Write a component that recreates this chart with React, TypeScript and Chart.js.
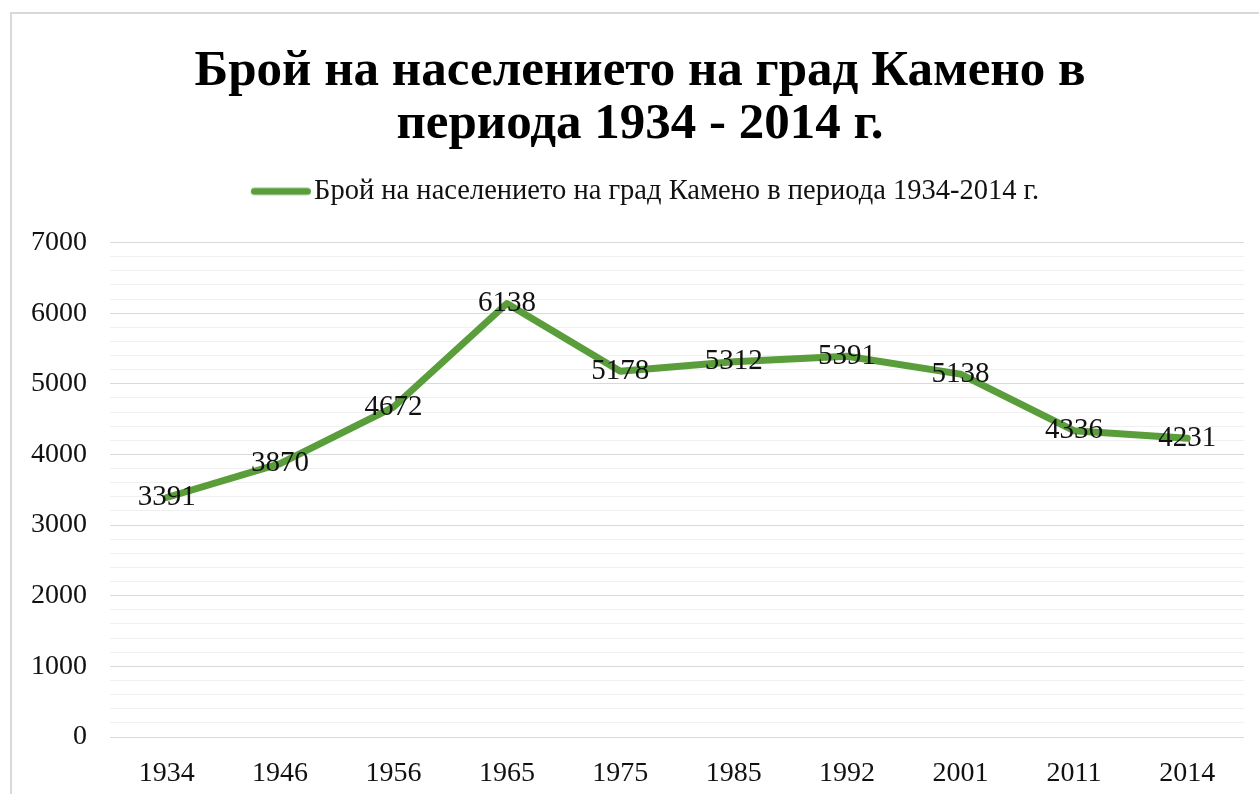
import React, { useEffect, useRef } from "react";
import { Chart, registerables } from "chart.js";

Chart.register(...registerables);

const years = ["1934", "1946", "1956", "1965", "1975", "1985", "1992", "2001", "2011", "2014"];
const population = [3391, 3870, 4672, 6138, 5178, 5312, 5391, 5138, 4336, 4231];
const titleLines = ["Брой на населението на град Камено в", "периода 1934 - 2014 г."];
const seriesLabel = "Брой на населението на град Камено в периода 1934-2014 г.";

const GREEN = "#5a9e3b";
const SERIF = "'Liberation Serif', 'DejaVu Serif', serif";

function makeLegendImage(): HTMLCanvasElement {
  const c = document.createElement("canvas");
  c.width = 69;
  c.height = 10;
  const ctx = c.getContext("2d")!;
  ctx.strokeStyle = GREEN;
  ctx.lineWidth = 7;
  ctx.lineCap = "round";
  ctx.beginPath();
  ctx.moveTo(12.5, 5);
  ctx.lineTo(65.5, 5);
  ctx.stroke();
  return c;
}

const dataLabels = {
  id: "dataLabels",
  afterDatasetsDraw(chart: any) {
    const ctx = chart.ctx;
    const meta = chart.getDatasetMeta(0);
    ctx.save();
    ctx.font = `29px ${SERIF}`;
    ctx.fillStyle = "#111";
    ctx.textAlign = "center";
    ctx.textBaseline = "middle";
    meta.data.forEach((pt: any, i: number) => {
      ctx.fillText(String(population[i]), pt.x, pt.y);
    });
    ctx.restore();
  },
};

function shiftBox(chart: any, box: any, dx: number) {
  if (!box || box._shifted) return;
  const orig = box.draw.bind(box);
  box.draw = function (...args: any[]) {
    const ctx = chart.ctx;
    ctx.save();
    ctx.translate(dx, 0);
    orig(...args);
    ctx.restore();
  };
  box._shifted = true;
}

const shiftHeader = {
  id: "shiftHeader",
  beforeDraw(chart: any) {
    shiftBox(chart, chart.titleBlock, 18);
    shiftBox(chart, chart.legend, 24);
  },
};

export default function App() {
  const ref = useRef<HTMLCanvasElement>(null);
  useEffect(() => {
    const chart = new Chart(ref.current!, {
      type: "line",
      data: {
        labels: years,
        datasets: [
          {
            label: seriesLabel,
            data: population,
            borderColor: GREEN,
            backgroundColor: GREEN,
            borderWidth: 7,
            borderCapStyle: "round",
            borderJoinStyle: "round",
            pointRadius: 0,
            tension: 0,
          },
        ],
      },
      options: {
        animation: false,
        responsive: false,
        layout: { padding: { left: 0, right: 15, top: 0, bottom: 0 } },
        plugins: {
          title: {
            display: true,
            text: titleLines,
            color: "#000",
            font: { family: SERIF, size: 51, weight: "bold", lineHeight: 1.04 },
            padding: { top: 45, bottom: 16 },
          },
          subtitle: {
            display: true,
            text: " ",
            weight: 500,
            font: { size: 1, lineHeight: 1 },
            padding: { top: 0, bottom: 26 },
          } as any,
          legend: {
            display: true,
            labels: {
              usePointStyle: true,
              pointStyle: makeLegendImage() as any,
              pointStyleWidth: 47,
              boxHeight: 10,
              color: "#111",
              font: { family: SERIF, size: 28.5 },
              padding: 10,
            },
          },
          tooltip: { enabled: false },
        },
        scales: {
          x: {
            offset: true,
            grid: { display: false, offset: true },
            border: { display: false },
            ticks: { color: "#111", font: { family: SERIF, size: 28 }, padding: 12, maxRotation: 0 },
            afterFit(scale: any) {
              scale.height = 57;
            },
          },
          y: {
            min: 0,
            max: 7000,
            border: { display: false },
            grid: {
              drawTicks: false,
              lineWidth: 1,
              color: (c: any) => (c.tick && c.tick.value % 1000 === 0 ? "#d9d9d9" : "#f0f0f0"),
            },
            ticks: {
              stepSize: 200,
              autoSkip: false,
              color: "#111",
              font: { family: SERIF, size: 28 },
              padding: 23,
              callback: (v: any) => (Number(v) % 1000 === 0 ? String(v) : ""),
            },
            afterFit(scale: any) {
              scale.width = 110;
            },
          },
        },
      },
      plugins: [dataLabels, shiftHeader],
    });
    return () => chart.destroy();
  }, []);

  return (
    <div style={{ position: "fixed", left: 0, top: 0, width: 1259, height: 794, overflow: "hidden", background: "#fff" }}>
      <div
        style={{
          position: "absolute",
          left: 10,
          top: 12,
          width: 1400,
          height: 900,
          border: "2px solid #d9d9d9",
          boxSizing: "border-box",
        }}
      />
      <canvas ref={ref} width={1259} height={794} style={{ position: "absolute", left: 0, top: 0 }} />
    </div>
  );
}
